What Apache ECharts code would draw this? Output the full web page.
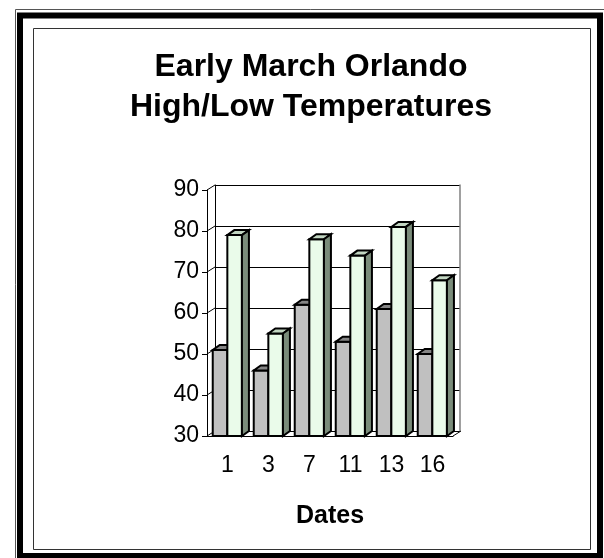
<!DOCTYPE html>
<html>
<head>
<meta charset="utf-8">
<script src="https://cdn.jsdelivr.net/npm/echarts@6/dist/echarts.min.js"></script>
<style>
  html, body { margin: 0; padding: 0; background: #fff; }
  #chart { width: 604px; height: 558px; }
</style>
</head>
<body>
<div id="chart"></div>
<script>
const dates = ['1', '3', '7', '11', '13', '16'];
const lowTemps = [51, 46, 62, 53, 61, 50];
const highTemps = [79, 55, 78, 74, 81, 68];
const yTicks = [30, 40, 50, 60, 70, 80, 90];

const chart = echarts.init(document.getElementById('chart'));

// depth of the fake 3d walls and columns
const DX = 8, DY = 5;
const BX = 7, BY = 5;
const FONT = 'Liberation Sans, Arial, sans-serif';

function renderBars(params, api) {
  const i = api.value(0);
  const low = api.value(1);
  const high = api.value(2);
  const base = api.coord([i, 30]);
  const band = api.size([1, 0])[0];
  const start = base[0] - band / 2;
  const bw = band * 0.356;
  const gx0 = start + band * 0.14;
  const hx0 = gx0 + bw;
  const hx1 = hx0 + bw;
  const yl = api.coord([i, low])[1];
  const yh = api.coord([i, high])[1];
  const line = { stroke: '#000', lineWidth: 2 };
  return {
    type: 'group',
    children: [
      { type: 'rect', shape: { x: gx0, y: yl, width: bw, height: base[1] - yl },
        style: Object.assign({ fill: '#c0c0c0' }, line) },
      { type: 'polygon', shape: { points: [[gx0, yl], [hx0, yl], [hx0 + BX, yl - BY], [gx0 + BX, yl - BY]] },
        style: Object.assign({ fill: '#858585' }, line) },
      { type: 'rect', shape: { x: hx0, y: yh, width: bw, height: base[1] - yh },
        style: Object.assign({ fill: '#eafbea' }, line) },
      { type: 'polygon', shape: { points: [[hx0, yh], [hx1, yh], [hx1 + BX, yh - BY], [hx0 + BX, yh - BY]] },
        style: Object.assign({ fill: '#c2d6c2' }, line) },
      { type: 'polygon', shape: { points: [[hx1, yh], [hx1 + BX, yh - BY], [hx1 + BX, base[1] - BY], [hx1, base[1]]] },
        style: Object.assign({ fill: '#7a8c7a' }, line) }
    ]
  };
}

function renderWall(params, api) {
  const p = api.coord([0, api.value(1)]);
  const cs = params.coordSys;
  const kids = [
    { type: 'line', shape: { x1: cs.x, y1: p[1], x2: cs.x + DX, y2: p[1] - DY },
      style: { stroke: '#000', lineWidth: 1 } }
  ];
  if (api.value(1) === yTicks[0]) {
    kids.push({ type: 'line', shape: { x1: cs.x + cs.width, y1: p[1], x2: cs.x + cs.width + DX, y2: p[1] - DY },
      style: { stroke: '#000', lineWidth: 1 } });
  }
  return { type: 'group', children: kids };
}

chart.setOption({
  backgroundColor: '#fff',
  animation: false,
  graphic: [
    { type: 'rect', shape: { x: 15.5, y: 9.5, width: 620, height: 600 }, style: { fill: 'none', stroke: '#555', lineWidth: 1 } },
    { type: 'rect', shape: { x: 20, y: 15.5, width: 580, height: 540.5 }, style: { fill: 'none', stroke: '#000', lineWidth: 6 } },
    { type: 'rect', shape: { x: 33.5, y: 28.5, width: 557, height: 521 }, style: { fill: 'none', stroke: '#333', lineWidth: 1 } },
    {
      type: 'text',
      x: 311, y: 47,
      style: {
        text: 'Early March Orlando\nHigh/Low Temperatures',
        align: 'center',
        verticalAlign: 'top',
        font: 'bold 32px ' + FONT,
        lineHeight: 40,
        fill: '#000'
      }
    }
  ],
  grid: [
    { left: 207, top: 190, width: 246, height: 246 },
    { left: 215, top: 185, width: 245, height: 246 }
  ],
  xAxis: [
    {
      gridIndex: 0,
      type: 'category',
      data: dates,
      name: 'Dates',
      nameLocation: 'middle',
      nameGap: 68,
      nameTextStyle: { fontFamily: FONT, fontSize: 25, fontWeight: 'bold', color: '#000' },
      axisLine: { lineStyle: { color: '#000', width: 1 } },
      axisTick: { length: 5, lineStyle: { color: '#000' } },
      axisLabel: { margin: 18, fontFamily: FONT, fontSize: 23, color: '#000' }
    },
    { gridIndex: 1, type: 'category', data: dates, show: false }
  ],
  yAxis: [
    {
      gridIndex: 0,
      type: 'value',
      min: 30, max: 90, interval: 10,
      axisLine: { show: true, lineStyle: { color: '#000', width: 1 } },
      axisTick: { show: true, length: 5, lineStyle: { color: '#000' } },
      axisLabel: { margin: 8, fontFamily: FONT, fontSize: 23, color: '#000' },
      splitLine: { show: false }
    },
    {
      gridIndex: 1,
      type: 'value',
      min: 30, max: 90, interval: 10,
      axisLine: { show: true, lineStyle: { color: '#000', width: 1 } },
      axisTick: { show: false },
      axisLabel: { show: false },
      splitLine: { show: true, lineStyle: { color: '#000', width: 1 } }
    },
    {
      gridIndex: 1,
      type: 'value',
      position: 'right',
      min: 30, max: 90, interval: 10,
      axisLine: { show: true, lineStyle: { color: '#808080', width: 1.5 } },
      axisTick: { show: false },
      axisLabel: { show: false },
      splitLine: { show: false }
    }
  ],
  series: [
    {
      type: 'custom',
      name: 'wall',
      xAxisIndex: 0, yAxisIndex: 0,
      data: yTicks.map(v => [0, v]),
      encode: { x: 0, y: 1 },
      renderItem: renderWall,
      silent: true,
      z: 1
    },
    {
      type: 'custom',
      name: 'temps',
      xAxisIndex: 0, yAxisIndex: 0,
      data: dates.map((d, i) => [i, lowTemps[i], highTemps[i]]),
      encode: { x: 0, y: [1, 2] },
      renderItem: renderBars,
      z: 3
    }
  ]
});
</script>
</body>
</html>
